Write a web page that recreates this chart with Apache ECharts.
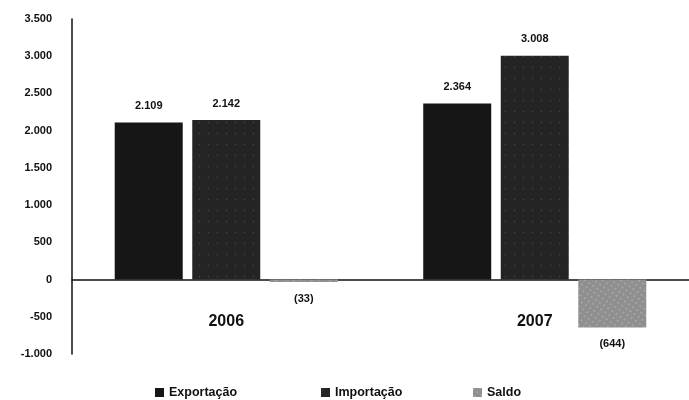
<!DOCTYPE html>
<html>
<head>
<meta charset="utf-8">
<script src="https://cdn.jsdelivr.net/npm/echarts@6/dist/echarts.min.js"></script>
<style>html,body{margin:0;padding:0;background:#fff}#c{width:689px;height:400px}</style>
</head>
<body>
<div id="c"></div>
<script>
const categories = ['2006', '2007'];
const exportacao = [2109, 2364];
const importacao = [2142, 3008];
const saldo = [-33, -644];
const yTicks = { min: -1000, max: 3500, interval: 500 };

function fmt(v) {
  const s = Math.abs(v).toString().replace(/\B(?=(\d{3})+(?!\d))/g, '.');
  return v < 0 ? '-' + s : s;
}
function lab(v) {
  const s = Math.abs(v).toString().replace(/\B(?=(\d{3})+(?!\d))/g, '.');
  return v < 0 ? '(' + s + ')' : s;
}
const FONT = '"Liberation Sans", Arial, sans-serif';
const chart = echarts.init(document.getElementById('c'));
const labelCfg = {
  show: true, fontFamily: FONT, fontWeight: 'bold', fontSize: 11, color: '#111',
  formatter: p => lab(p.value)
};
function mk(name, data, color, decal) {
  return {
    name, type: 'bar', data: data.map(v => ({
      value: v,
      label: v < 0 ? { position: 'bottom', distance: 11 } : { position: 'top', distance: 11 }
    })),
    barWidth: 68, barGap: '14%',
    itemStyle: { color, decal },
    label: labelCfg
  };
}
const legendBase = {
  top: 381, itemWidth: 9, itemHeight: 9, icon: 'rect',
  textStyle: { fontFamily: FONT, fontWeight: 'bold', fontSize: 12.5, color: '#111' }
};
chart.setOption({
  animation: false,
  aria: { enabled: true, label: { enabled: false }, decal: { show: true } },
  legend: [
    Object.assign({}, legendBase, { left: 150, data: ['Exportação'] }),
    Object.assign({}, legendBase, { left: 316, data: ['Importação'] }),
    Object.assign({}, legendBase, { left: 468, data: ['Saldo'] })
  ],
  grid: { left: 72, top: 19, width: 624, bottom: 46, containLabel: false },
  xAxis: {
    type: 'category', data: categories,
    axisLine: { onZero: true, lineStyle: { color: '#111', width: 1.5 } },
    axisTick: { show: false },
    axisLabel: { margin: -40, fontFamily: FONT, fontWeight: 'bold', fontSize: 16, color: '#111' }
  },
  yAxis: {
    type: 'value', min: yTicks.min, max: yTicks.max, interval: yTicks.interval,
    axisLine: { show: true, lineStyle: { color: '#111', width: 1.5 } },
    axisTick: { show: false },
    splitLine: { show: false },
    axisLabel: { margin: 20, fontFamily: FONT, fontWeight: 'bold', fontSize: 11, color: '#111', formatter: fmt }
  },
  series: [
    mk('Exportação', exportacao, '#161616', { symbol: 'rect', symbolSize: 0.1, color: 'rgba(0,0,0,0)' }),
    mk('Importação', importacao, '#242424', { symbol: 'rect', symbolSize: 0.5, color: 'rgba(255,255,255,0.15)', dashArrayX: [3, 6], dashArrayY: [3, 8], rotation: 0 }),
    mk('Saldo', saldo, '#8f8f8f', { symbol: 'rect', symbolSize: 0.8, color: 'rgba(255,255,255,0.3)', dashArrayX: [2, 3], dashArrayY: [2, 3], rotation: 0.6 })
  ]
});
</script>
</body>
</html>
